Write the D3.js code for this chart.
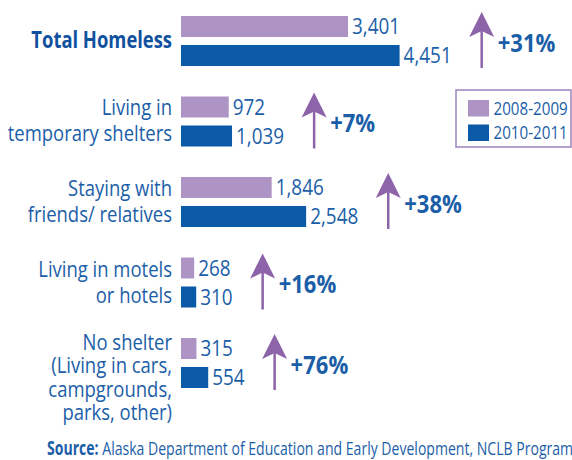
<!DOCTYPE html>
<html>
<head>
<meta charset="utf-8">
<script src="https://cdn.jsdelivr.net/npm/d3@7"></script>
<style>
  body { margin: 0; background: #fff; }
  text { font-family: "Open Sans", "Noto Sans", sans-serif; }
</style>
</head>
<body>
<div id="chart-area"></div>
<script>
// homeless students in Alaska, two school-year periods
const categories = ["Total Homeless", "Temporary shelters", "Friends/relatives", "Motels/hotels", "No shelter"]
const labelLines = [
  ["Total Homeless"],
  ["Living in", "temporary shelters"],
  ["Staying with", "friends/ relatives"],
  ["Living in motels", "or hotels"],
  ["No shelter", "(Living in cars,", "campgrounds,", "parks, other)"]
]
const years = ["2008-2009", "2010-2011"]
const values0809 = [3401, 972, 1846, 268, 315]
const values1011 = [4451, 1039, 2548, 310, 554]

const WIDTH = 572
const HEIGHT = 460
const BAR_LEFT = 181
const TEXT_BLUE = "#1b5ea8"
const ARROW_PURPLE = "#8d63a9"

const colorScale = d3.scaleOrdinal()
  .domain(years)
  .range(["#ae93c5", "#0b5aa8"])

const data = categories.map((c, i) => ({
  cat: c,
  lines: labelLines[i],
  vals: [values0809[i], values1011[i]]
}))

const svg = d3.select("#chart-area").append("svg")
  .attr("width", WIDTH)
  .attr("height", HEIGHT)

// no condensed font installed, so texts get squeezed horizontally
function label(sel, x, y, sq) {
  return sel.append("text")
    .attr("transform", `translate(${x},${y}) scale(${sq},1)`)
}

const x = d3.scaleLinear()
  .domain([0, 4500])
  .range([BAR_LEFT, BAR_LEFT + 221])

const y = d3.scaleBand()
  .domain(categories)
  .range([16, 388])
  .paddingInner(0.379)
  .paddingOuter(0)

const ySub = d3.scaleBand()
  .domain(years)
  .range([0, y.bandwidth()])
  .paddingInner(0.276)

const bw = y.bandwidth()

const groups = svg.selectAll("g.group")
  .data(data)
  .enter().append("g")
    .attr("class", "group")
    .attr("transform", d => `translate(0,${y(d.cat)})`)

// bars
groups.selectAll("rect")
  .data(d => d.vals.map((v, j) => ({year: years[j], v})))
  .enter().append("rect")
    .attr("x", x(0))
    .attr("y", d => ySub(d.year))
    .attr("width", d => x(d.v) - x(0))
    .attr("height", ySub.bandwidth())
    .attr("fill", d => colorScale(d.year))

groups.each(function(d, i) {
  const g = d3.select(this)

  // value labels
  let labelEnd = 0
  d.vals.forEach((v, j) => {
    const lx = x(v) + 4
    const t = label(g, lx, ySub(years[j]) + ySub.bandwidth() / 2, 0.9)
      .attr("dy", "0.36em")
      .attr("fill", TEXT_BLUE)
      .style("font-size", "21px")
      .text(d3.format(",")(v))
    labelEnd = Math.max(labelEnd, lx + t.node().getComputedTextLength() * 0.9)
  })

  // category labels
  const bold = i === 0
  const lh = d.lines.length > 2 ? 23.5 : 26
  const purpleCenter = ySub(years[0]) + ySub.bandwidth() / 2
  const first = Math.max(bw / 2 - (d.lines.length - 1) * lh / 2, purpleCenter - 6) + 7
  d.lines.forEach((line, k) => {
    label(g, 172, first + k * lh, bold ? 0.8 : 0.88)
      .attr("text-anchor", "end")
      .attr("fill", bold ? "#0f519e" : TEXT_BLUE)
      .style("font-size", bold ? "23px" : "21px")
      .style("font-weight", bold ? "bold" : "normal")
      .text(line)
  })

  // growth arrow and percentage
  const ax = labelEnd + 30
  const top = -4
  g.append("line")
    .attr("x1", ax).attr("x2", ax)
    .attr("y1", top + 15).attr("y2", bw + 2)
    .attr("stroke", ARROW_PURPLE)
    .attr("stroke-width", 2.5)
  g.append("path")
    .attr("d", "M0,0 L-12.5,25 L0,19 L12.5,25 Z")
    .attr("transform", `translate(${ax},${top})`)
    .attr("fill", ARROW_PURPLE)
  const pct = Math.round((d.vals[1] - d.vals[0]) / d.vals[0] * 100)
  label(g, ax + 16, bw / 2 + 2, 0.9)
    .attr("dy", "0.36em")
    .attr("fill", TEXT_BLUE)
    .style("font-size", "24.5px")
    .style("font-weight", "bold")
    .text("+" + pct + "%")
})

// legend
const legend = svg.append("g")
  .attr("transform", "translate(456,90)")
legend.append("rect")
  .attr("width", 115)
  .attr("height", 57)
  .attr("fill", "none")
  .attr("stroke", "#9d82bd")
  .attr("stroke-width", 1.5)
years.forEach((yr, i) => {
  legend.append("rect")
    .attr("x", 12)
    .attr("y", 10 + i * 24.5)
    .attr("width", 21)
    .attr("height", 16.5)
    .attr("fill", colorScale(yr))
  label(legend, 37.5, 18.3 + i * 24.5, 0.82)
    .attr("dy", "0.36em")
    .attr("fill", TEXT_BLUE)
    .style("font-size", "18.5px")
    .text(yr)
})

// source note
const src = label(svg, 47, 454.5, 0.74)
  .attr("fill", TEXT_BLUE)
  .style("font-size", "19px")
src.append("tspan")
  .style("font-weight", "bold")
  .text("Source:")
src.append("tspan")
  .text(" Alaska Department of Education and Early Development, NCLB Program")
</script>
</body>
</html>
